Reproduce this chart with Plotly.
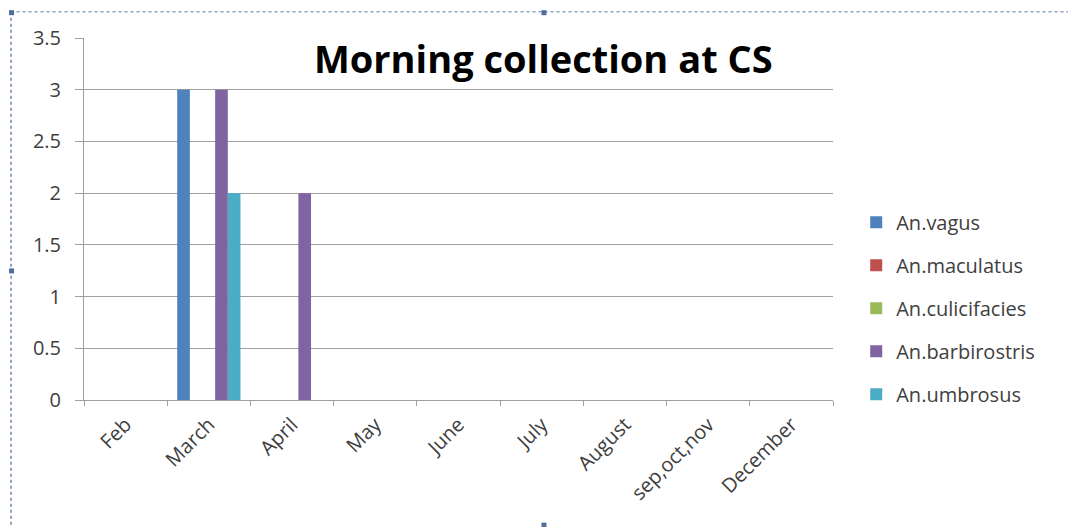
import plotly.graph_objects as go

# Monthly morning catches per Anopheles species
months = ["Feb", "March", "April", "May", "June", "July", "August",
          "sep,oct,nov", "December"]
an_vagus = [0, 3, 0, 0, 0, 0, 0, 0, 0]
an_maculatus = [0, 0, 0, 0, 0, 0, 0, 0, 0]
an_culicifacies = [0, 0, 0, 0, 0, 0, 0, 0, 0]
an_barbirostris = [0, 3, 2, 0, 0, 0, 0, 0, 0]
an_umbrosus = [0, 2, 0, 0, 0, 0, 0, 0, 0]
y_ticks = [0, 0.5, 1, 1.5, 2, 2.5, 3, 3.5]

series = [
    ("An.vagus", an_vagus, "#4F81BD"),
    ("An.maculatus", an_maculatus, "#C0504D"),
    ("An.culicifacies", an_culicifacies, "#9BBB59"),
    ("An.barbirostris", an_barbirostris, "#8064A2"),
    ("An.umbrosus", an_umbrosus, "#4BACC6"),
]

W, H = 1068, 527
L, R, T, B = 84.4, 832.8, 38.3, 400.0   # plot area edges in pixels


def px_x(x):
    return (x - L) / (R - L)


def px_y(y):
    return (B - y) / (B - T)


FONT = "Open Sans"
TXT = "#404040"
GRID = "#A0A0A0"

fig = go.Figure()
for i, (name, vals, color) in enumerate(series):
    fig.add_trace(go.Bar(
        x=months, y=vals, name=name, legendgroup=f"g{i}",
        marker=dict(color=color, line=dict(width=0)),
    ))

fig.update_layout(
    width=W, height=H,
    margin=dict(l=L, r=W - R, t=T, b=H - B, pad=0),
    paper_bgcolor="white", plot_bgcolor="white",
    barmode="group", bargap=0.24, bargroupgap=0,
    font=dict(family=FONT, size=20, color=TXT),
    showlegend=True,
    legend=dict(
        x=px_x(856), xanchor="left", y=px_y(203), yanchor="top",
        font=dict(family=FONT, size=20, color=TXT),
        tracegroupgap=14, bgcolor="rgba(0,0,0,0)",
    ),
    xaxis=dict(
        type="category", showgrid=False, showline=True, linecolor=GRID,
        linewidth=1, ticks="outside", tickson="boundaries", ticklen=5,
        tickcolor=GRID, tickangle=-45, tickfont=dict(size=20, color=TXT),
        ticklabelstandoff=4, zeroline=False,
    ),
    yaxis=dict(
        range=[0, 3.5], tickvals=y_ticks, showgrid=True, gridcolor=GRID,
        gridwidth=1, showline=True, linecolor=GRID, linewidth=1,
        ticks="outside", ticklen=8, tickcolor=GRID, ticklabelstandoff=10,
        tickfont=dict(size=20, color=TXT), zeroline=False,
    ),
)

fig.add_annotation(
    text="<b>Morning collection at CS</b>", xref="paper", yref="paper",
    x=px_x(544), y=px_y(58), xanchor="center", yanchor="middle",
    showarrow=False, font=dict(family=FONT, size=38, color="black"),
)

# Dotted selection frame with its handles
frame = "#8FA2C0"
fig.add_shape(type="line", xref="paper", yref="paper",
              x0=px_x(11.5), x1=px_x(11.5), y0=px_y(12), y1=px_y(527),
              line=dict(color=frame, width=2, dash="dot"))
fig.add_shape(type="line", xref="paper", yref="paper",
              x0=px_x(11), x1=px_x(1068), y0=px_y(12), y1=px_y(12),
              line=dict(color=frame, width=1.5, dash="dot"))
for hx, hy in [(12, 13), (544, 13), (12, 271), (544, 525)]:
    fig.add_shape(type="rect", xref="paper", yref="paper",
                  x0=px_x(hx - 2.5), x1=px_x(hx + 2.5),
                  y0=px_y(hy - 2.5), y1=px_y(hy + 2.5),
                  fillcolor="#4F6E9E", line=dict(width=0))

fig.write_html("out.html")
